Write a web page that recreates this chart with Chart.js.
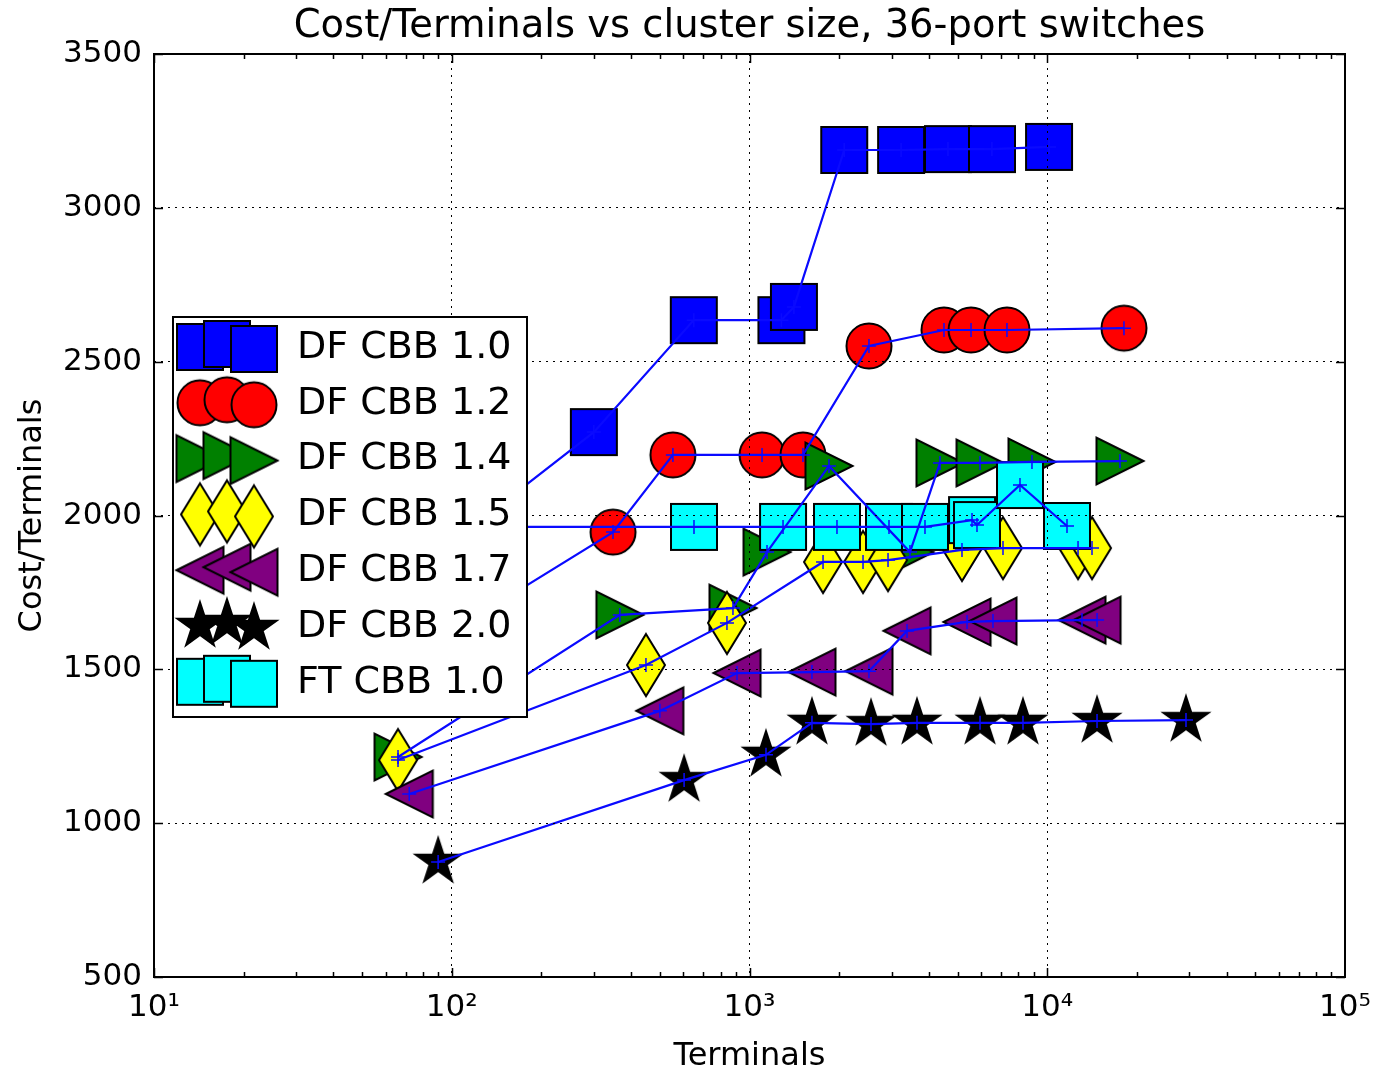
<!DOCTYPE html>
<html>
<head>
<meta charset="utf-8">
<script src="https://cdn.jsdelivr.net/npm/chart.js@4.4.4/dist/chart.umd.min.js"></script>
<style>
  html, body { margin: 0; padding: 0; background: #fff; }
  canvas { display: block; }
</style>
</head>
<body>
<canvas id="chart" width="1373" height="1072"></canvas>
<script>
// values (terminals, cost per terminal)
const df10Terminals = [70, 300, 650, 1280, 1410, 2080, 3230, 4640, 6520, 10140];
const df10Cost = [1795, 2271, 2635, 2635, 2678, 3188, 3188, 3191, 3191, 3198];

const df12Terminals = [70, 348, 553, 1102, 1512, 2519, 4500, 5546, 7323, 18100];
const df12Cost = [1530, 1946, 2197, 2197, 2197, 2551, 2603, 2603, 2603, 2609];

const df14Terminals = [66, 367, 880, 1145, 1849, 3459, 4363, 5946, 8886, 17550];
const df14Cost = [1215, 1677, 1699, 1881, 2161, 1881, 2171, 2171, 2174, 2177];

const df15Terminals = [66, 449, 840, 1766, 2406, 2919, 5172, 7102, 12688, 14136];
const df15Cost = [1205, 1514, 1651, 1849, 1849, 1855, 1888, 1894, 1894, 1894];

const df17Terminals = [72, 500, 908, 1621, 2519, 3381, 5378, 6573, 13082, 14697];
const df17Cost = [1095, 1365, 1488, 1491, 1494, 1625, 1654, 1657, 1660, 1660];

const df20Terminals = [90, 603, 1136, 1621, 2559, 3652, 5946, 8289, 14697, 29240];
const df20Cost = [874, 1140, 1222, 1326, 1322, 1326, 1326, 1326, 1332, 1335];

const ftTerminals = [108, 651, 1296, 1967, 2941, 3885, 5589, 5808, 8099, 11650];
const ftCost = [1963, 1963, 1963, 1963, 1963, 1963, 1985, 1969, 2099, 1966];

const seriesLabels = ["DF CBB 1.0", "DF CBB 1.2", "DF CBB 1.4", "DF CBB 1.5", "DF CBB 1.7", "DF CBB 2.0", "FT CBB 1.0"];
const xTickValues = [10, 100, 1000, 10000, 100000];
const yTickValues = [500, 1000, 1500, 2000, 2500, 3000, 3500];

const FONT = "'DejaVu Sans', 'Liberation Sans', sans-serif";
const SUP = {"0": "\u2070", "1": "\u00b9", "2": "\u00b2", "3": "\u00b3", "4": "\u2074", "5": "\u2075"};

// big scatter markers, drawn once into small canvases
function makeMarker(shape, fill) {
    const S = 72;
    const c = document.createElement("canvas");
    c.width = S;
    c.height = S;
    const g = c.getContext("2d");
    g.translate(S / 2, S / 2);
    g.beginPath();
    if (shape === "square") {
        g.rect(-23, -23, 46, 46);
    } else if (shape === "circle") {
        g.arc(0, 0, 22.5, 0, Math.PI * 2);
    } else if (shape === "triRight") {
        g.moveTo(23.5, 0); g.lineTo(-23.5, -23.5); g.lineTo(-23.5, 23.5); g.closePath();
    } else if (shape === "triLeft") {
        g.moveTo(-23.5, 0); g.lineTo(23.5, -23.5); g.lineTo(23.5, 23.5); g.closePath();
    } else if (shape === "thinDiamond") {
        g.moveTo(0, -31); g.lineTo(19, 0); g.lineTo(0, 31); g.lineTo(-19, 0); g.closePath();
    } else if (shape === "star") {
        const r = 23.7, ri = r * 0.381966;
        for (let k = 0; k < 10; k++) {
            const rr = k % 2 ? ri : r;
            const a = -Math.PI / 2 + k * Math.PI / 5;
            if (k === 0) g.moveTo(rr * Math.cos(a), rr * Math.sin(a));
            else g.lineTo(rr * Math.cos(a), rr * Math.sin(a));
        }
        g.closePath();
    }
    g.fillStyle = fill;
    g.fill();
    g.lineWidth = 2;
    g.lineJoin = "miter";
    g.strokeStyle = "#000";
    g.stroke();
    return c;
}

const series = [
    {x: df10Terminals, y: df10Cost, marker: makeMarker("square", "#0000ff")},
    {x: df12Terminals, y: df12Cost, marker: makeMarker("circle", "#ff0000")},
    {x: df14Terminals, y: df14Cost, marker: makeMarker("triRight", "#008000")},
    {x: df15Terminals, y: df15Cost, marker: makeMarker("thinDiamond", "#ffff00")},
    {x: df17Terminals, y: df17Cost, marker: makeMarker("triLeft", "#800080")},
    {x: df20Terminals, y: df20Cost, marker: makeMarker("star", "#000000")},
    {x: ftTerminals, y: ftCost, marker: makeMarker("square", "#00ffff")},
];

const toPoints = (xs, ys) => xs.map((v, i) => ({x: v, y: ys[i]}));

const datasets = [];
// markers first (all series), then blue "+" lines on top of them
series.forEach((s, i) => {
    datasets.push({
        label: seriesLabels[i],
        data: toPoints(s.x, s.y),
        showLine: false,
        pointStyle: s.marker,
        pointRadius: 23,
        order: 100 - i,
    });
});
series.forEach((s, i) => {
    datasets.push({
        label: seriesLabels[i] + " line",
        data: toPoints(s.x, s.y),
        showLine: true,
        borderColor: "#0a0aff",
        borderWidth: 2.2,
        tension: 0,
        fill: false,
        pointStyle: "cross",
        pointRadius: 7,
        pointBorderWidth: 1.5,
        pointBorderColor: "#0a0aff",
        pointBackgroundColor: "#0a0aff",
        order: 50 - i,
    });
});

const isPow10 = v => Math.abs(Math.log10(v) - Math.round(Math.log10(v))) < 1e-9;

const framePlugin = {
    id: "frameAndLegend",
    afterDraw(chart) {
        const {ctx, chartArea: a, scales: {x, y}} = chart;
        ctx.save();

        // inward tick marks on all four sides
        ctx.strokeStyle = "#000";
        ctx.lineWidth = 1.5;
        ctx.beginPath();
        for (let e = 1; e < 5; e++) {
            for (let m = 1; m <= 9; m++) {
                const v = m * Math.pow(10, e);
                const px = Math.round(x.getPixelForValue(v)) + 0.5;
                const len = m === 1 ? 9 : 5;
                ctx.moveTo(px, a.bottom); ctx.lineTo(px, a.bottom - len);
                ctx.moveTo(px, a.top); ctx.lineTo(px, a.top + len);
            }
        }
        yTickValues.forEach(v => {
            const py = Math.round(y.getPixelForValue(v)) + 0.5;
            ctx.moveTo(a.left, py); ctx.lineTo(a.left + 9, py);
            ctx.moveTo(a.right, py); ctx.lineTo(a.right - 9, py);
        });
        ctx.stroke();

        // axes frame
        ctx.lineWidth = 2;
        ctx.strokeRect(a.left, a.top, a.right - a.left, a.bottom - a.top);

        // axis titles
        ctx.fillStyle = "#000";
        ctx.font = "32px " + FONT;
        ctx.textAlign = "center";
        ctx.textBaseline = "middle";
        ctx.fillText("Terminals", (a.left + a.right) / 2, 1057);
        ctx.save();
        ctx.translate(33, (a.top + a.bottom) / 2);
        ctx.rotate(-Math.PI / 2);
        ctx.fillText("Cost/Terminals", 0, 0);
        ctx.restore();

        // legend box
        const lx = 173, ly = 317, lw = 354, lh = 400;
        ctx.fillStyle = "#fff";
        ctx.fillRect(lx, ly, lw, lh);
        ctx.lineWidth = 2;
        ctx.strokeStyle = "#000";
        ctx.strokeRect(lx, ly, lw, lh);

        ctx.font = "38px " + FONT;
        ctx.textAlign = "left";
        ctx.textBaseline = "middle";
        const markerX = [200, 227, 254];
        const markerDy = [2, -1, 4];
        series.forEach((s, i) => {
            const cy = 345 + i * 55.8;
            const S = s.marker.width;
            for (let k = 0; k < 3; k++) {
                ctx.drawImage(s.marker, markerX[k] - S / 2, cy + markerDy[k] - S / 2);
            }
            ctx.fillStyle = "#000";
            ctx.fillText(seriesLabels[i], 297, cy + 3);
        });
        ctx.restore();
    }
};

new Chart(document.getElementById("chart"), {
    type: "scatter",
    data: {datasets},
    options: {
        responsive: false,
        animation: false,
        layout: {padding: {left: 0, right: 28, top: 0, bottom: 0}},
        plugins: {
            legend: {display: false},
            tooltip: {enabled: false},
            title: {
                display: true,
                fullSize: false,
                text: "Cost/Terminals vs cluster size, 36-port switches",
                color: "#000",
                font: {family: FONT, size: 38.5, weight: "normal", lineHeight: 1.1},
                padding: {top: 6, bottom: 5.65},
            },
        },
        scales: {
            x: {
                type: "logarithmic",
                min: 10,
                max: 100000,
                afterBuildTicks: s => { s.ticks = xTickValues.map(v => ({value: v})); },
                afterFit: s => {
                    s.height = 95;
                    s.paddingLeft = 0;
                    s.paddingRight = 0;
                },
                grid: {color: "#000", lineWidth: 1, drawTicks: false, z: 1, borderDash: [2, 5]},
                border: {display: false, dash: [2, 5]},
                ticks: {
                    autoSkip: false,
                    maxRotation: 0,
                    padding: 12,
                    color: "#000",
                    font: {family: FONT, size: 31},
                    callback: v => isPow10(v) ? "10" + String(Math.round(Math.log10(v))).split("").map(d => SUP[d]).join("") : "",
                },
            },
            y: {
                type: "linear",
                min: 500,
                max: 3500,
                afterBuildTicks: s => { s.ticks = yTickValues.map(v => ({value: v})); },
                afterFit: s => {
                    s.width = 154;
                    s.paddingTop = 0;
                    s.paddingBottom = 0;
                },
                grid: {color: "#000", lineWidth: 1, drawTicks: false, z: 1, borderDash: [2, 5]},
                border: {display: false, dash: [2, 5]},
                ticks: {
                    padding: 12,
                    color: "#000",
                    font: {family: FONT, size: 31},
                    callback: v => String(v),
                },
            },
        },
    },
    plugins: [framePlugin],
});
</script>
</body>
</html>
